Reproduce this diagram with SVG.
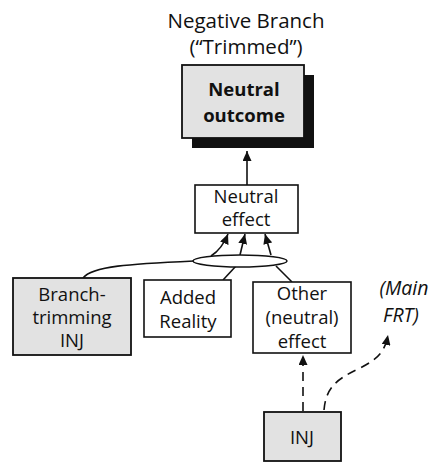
<svg xmlns="http://www.w3.org/2000/svg" width="437" height="463" viewBox="0 0 437 463">
<defs>
<style>
text{font-family:"Open Sans","Noto Sans",sans-serif;font-size:18.5px;fill:#111;text-anchor:middle}
.b{font-weight:bold;font-size:18.5px}
.it{font-style:italic;font-size:19.5px}
.box{fill:#fff;stroke:#111;stroke-width:1.6}
.gray{fill:#e2e2e2;stroke:#111;stroke-width:1.8}
.ln{fill:none;stroke:#111;stroke-width:1.6}
.dash{stroke-dasharray:9 6}
</style>
<marker id="ah" markerWidth="10" markerHeight="9" refX="10" refY="4.5" orient="auto" markerUnits="userSpaceOnUse">
<path d="M0,0 L10,4.5 L0,9 z" fill="#111"/>
</marker>
</defs>
<rect width="437" height="463" fill="#fff"/>
<g id="title">
<text x="246" y="28" style="font-size:20.5px">Negative Branch</text>
<text x="246" y="54" style="font-size:20.5px">(“Trimmed”)</text>
</g>
<g id="connectors">
<path class="ln" d="M247,185 L247,151" marker-end="url(#ah)"/>
<path class="ln" d="M211,256 Q222,249 228,234" marker-end="url(#ah)"/>
<path class="ln" d="M240,255 L245,234" marker-end="url(#ah)"/>
<path class="ln" d="M271,255 L265,234" marker-end="url(#ah)"/>
<path class="ln" d="M83,278 C92,266 130,264 194,261"/>
<path class="ln" d="M223,280 L236,266"/>
<path class="ln" d="M292,282 L276,266"/>
<ellipse class="ln" cx="240" cy="261" rx="47" ry="6" style="fill:#fff"/>
<path class="ln dash" d="M303,411 L303,355" marker-end="url(#ah)"/>
<path class="ln dash" d="M324,410 C326,385 340,378 360,368 S385,350 388,335" marker-end="url(#ah)"/>
</g>
<g id="neutral-outcome">
<rect x="192" y="75" width="122" height="73" fill="#111"/>
<rect class="gray" x="182" y="65" width="122" height="73"/>
<text class="b" x="244" y="96">Neutral</text>
<text class="b" x="244" y="122">outcome</text>
</g>
<g id="neutral-effect">
<rect class="box" x="195" y="185" width="103" height="48"/>
<text x="246" y="203">Neutral</text>
<text x="246" y="226">effect</text>
</g>
<g id="branch-trimming-inj">
<rect class="gray" x="13" y="278" width="118" height="77"/>
<text x="72" y="301">Branch-</text>
<text x="72" y="324">trimming</text>
<text x="72" y="347">INJ</text>
</g>
<g id="added-reality">
<rect class="box" x="144" y="280" width="87" height="57"/>
<text x="188" y="304">Added</text>
<text x="188" y="328">Reality</text>
</g>
<g id="other-effect">
<rect class="box" x="253" y="282" width="98" height="71"/>
<text x="302" y="300">Other</text>
<text x="302" y="324">(neutral)</text>
<text x="302" y="348">effect</text>
</g>
<g id="main-frt">
<text class="it" x="404" y="295">(Main</text>
<text class="it" x="401" y="322">FRT)</text>
</g>
<g id="inj">
<rect class="gray" x="264" y="412" width="77" height="49"/>
<text x="302" y="444">INJ</text>
</g>
</svg>
